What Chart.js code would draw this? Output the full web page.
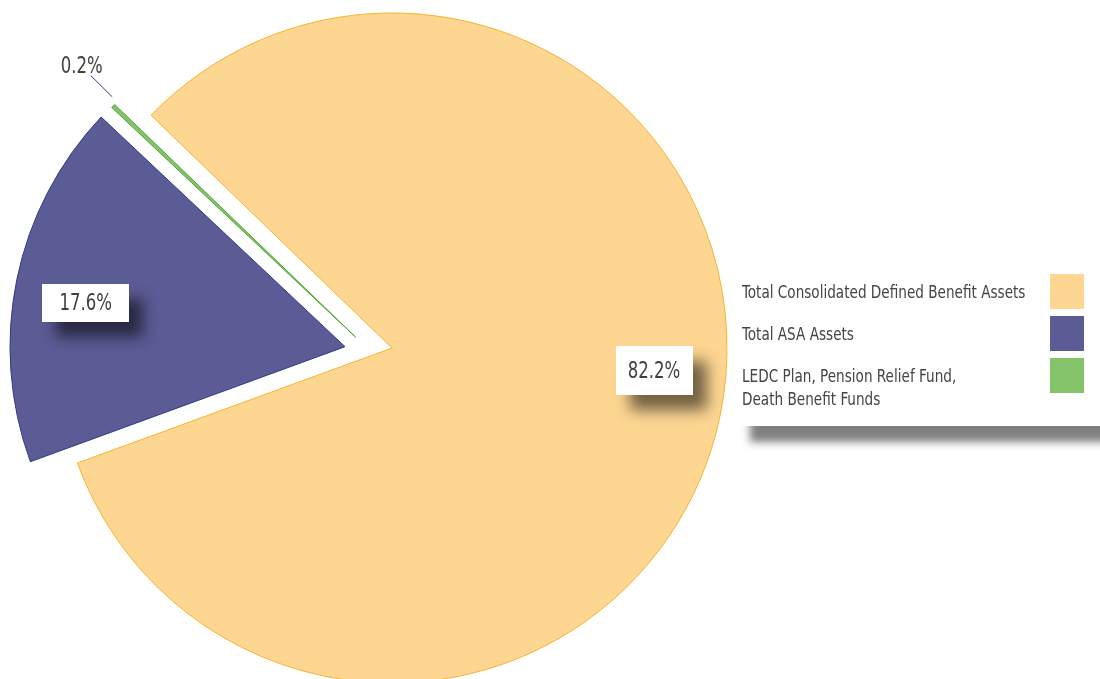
<!DOCTYPE html>
<html>
<head>
<meta charset="utf-8">
<title>Assets pie</title>
<script src="https://cdn.jsdelivr.net/npm/chart.js@4.4.0/dist/chart.umd.min.js"></script>
<style>
  html, body { margin: 0; padding: 0; background: #fff; }
  #wrap { position: relative; width: 1100px; height: 679px; overflow: hidden; }
  #chart { position: absolute; left: 0; top: 0; }
  #legend {
    position: absolute; left: 738px; top: 258px; width: 400px; height: 168px;
    background: #fff; box-shadow: 12px 16px 8px rgba(0, 0, 0, 0.5);
    font-family: "DejaVu Sans Condensed", sans-serif;
    font-size: 18px; color: #444;
  }
  .item { position: absolute; left: 4px; width: 346px; }
  .item .txt {
    position: absolute; left: 0; top: 6px; line-height: 23px; white-space: nowrap;
    transform: scaleX(0.84); transform-origin: left top;
  }
  .item .box { position: absolute; left: 308px; top: 0; width: 34px; height: 35px; }
</style>
</head>
<body>
<div id="wrap">
  <canvas id="chart" width="1100" height="679"></canvas>
  <div id="legend"></div>
</div>
<script>
// data
const labels = [
  'Total Consolidated Defined Benefit Assets',
  'Total ASA Assets',
  ['LEDC Plan, Pension Relief Fund,', 'Death Benefit Funds']
];
const values = [82.2, 17.6, 0.2];
const colors = ['#fdd692', '#5b5b95', '#84c36a'];
const borders = ['#f6b330', '#2e3a87', '#4ea62f'];

const labelFont = '23px "DejaVu Sans Condensed", sans-serif';
const squeeze = 0.8; // the original type is a narrow face

// pull slices out from the centre, by pixels; turn bends the direction (deg)
const explode = {
  id: 'explode',
  afterDatasetUpdate(chart, args, opts) {
    args.meta.data.forEach((arc, i) => {
      const d = opts.dist[i] || 0;
      const dir = (arc.startAngle + arc.endAngle) / 2 + (opts.turn[i] || 0) * Math.PI / 180;
      arc.x += Math.cos(dir) * d;
      arc.y += Math.sin(dir) * d;
    });
  }
};

// white boxed percent labels, leader line for tiny slices
const sliceLabels = {
  id: 'sliceLabels',
  afterDatasetsDraw(chart, args, opts) {
    const ctx = chart.ctx;
    const meta = chart.getDatasetMeta(0);
    const total = values.reduce((a, b) => a + b, 0);
    const put = (text, px, py) => {
      ctx.save();
      ctx.translate(px, py);
      ctx.scale(squeeze, 1);
      ctx.fillStyle = '#404040';
      ctx.fillText(text, 0, 0);
      ctx.restore();
    };
    ctx.save();
    ctx.font = labelFont;
    ctx.textAlign = 'center';
    ctx.textBaseline = 'middle';
    meta.data.forEach((arc, i) => {
      const { x, y, startAngle, endAngle, outerRadius } =
        arc.getProps(['x', 'y', 'startAngle', 'endAngle', 'outerRadius'], true);
      const text = (values[i] / total * 100).toFixed(1) + '%';
      const mid = (startAngle + endAngle) / 2 + (opts.shift[i] || 0) * Math.PI / 180;
      const cos = Math.cos(mid), sin = Math.sin(mid);
      if (values[i] / total < 0.01) {
        ctx.strokeStyle = '#2e3a87';
        ctx.lineWidth = 1;
        ctx.beginPath();
        ctx.moveTo(x + cos * (outerRadius + 7), y + sin * (outerRadius + 7));
        ctx.lineTo(x + cos * (outerRadius + 37), y + sin * (outerRadius + 37));
        ctx.stroke();
        put(text, x + cos * (outerRadius + 50), y + sin * (outerRadius + 50));
        return;
      }
      const lx = x + cos * outerRadius * opts.frac;
      const ly = y + sin * outerRadius * opts.frac;
      const [px, py] = opts.pad[i];
      const w = ctx.measureText(text).width * squeeze + px * 2;
      const h = 23 + py * 2;
      ctx.save();
      ctx.shadowColor = 'rgba(0, 0, 0, 0.55)';
      ctx.shadowBlur = 14;
      ctx.shadowOffsetX = 14;
      ctx.shadowOffsetY = 15;
      ctx.fillStyle = '#fff';
      ctx.fillRect(Math.round(lx - w / 2), Math.round(ly - h / 2), Math.round(w), Math.round(h));
      ctx.restore();
      put(text, lx, ly + 1);
    });
    ctx.restore();
  }
};

new Chart(document.getElementById('chart'), {
  type: 'pie',
  data: {
    labels: labels,
    datasets: [{
      data: values,
      backgroundColor: colors,
      borderColor: borders,
      borderWidth: 1,
      radius: 335
    }]
  },
  options: {
    responsive: false,
    animation: false,
    events: [],
    rotation: -46,
    layout: { padding: { left: 0, right: 316, top: 17, bottom: 0 } },
    plugins: {
      legend: { display: false },
      tooltip: { enabled: false },
      explode: { dist: [0, 47, 38], turn: [0, -10, -27] },
      sliceLabels: { frac: 0.785, shift: [-7, -2, 1], pad: [[12, 13], [17, 7.5], [0, 0]] }
    }
  },
  plugins: [explode, sliceLabels]
});

// legend on the right, swatches after the text
const legend = document.getElementById('legend');
labels.forEach((lab, i) => {
  const item = document.createElement('div');
  item.className = 'item';
  item.style.top = (16 + i * 42) + 'px';
  const txt = document.createElement('div');
  txt.className = 'txt';
  txt.innerHTML = Array.isArray(lab) ? lab.join('<br>') : lab;
  const box = document.createElement('div');
  box.className = 'box';
  box.style.background = colors[i];
  item.appendChild(txt);
  item.appendChild(box);
  legend.appendChild(item);
});
</script>
</body>
</html>
